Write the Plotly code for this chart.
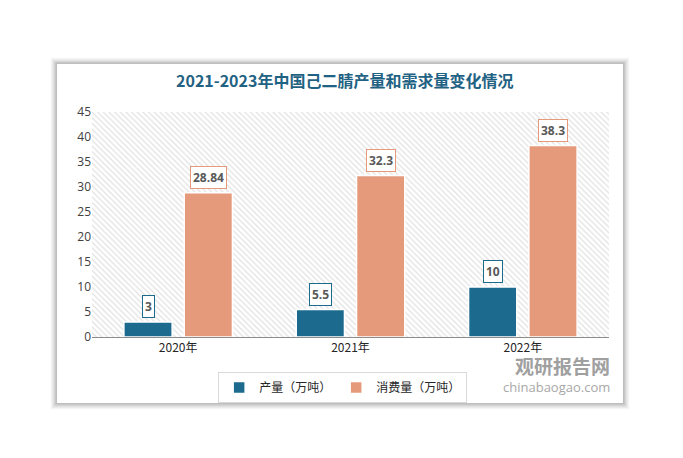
import plotly.graph_objects as go

categories = ["2020年", "2021年", "2022年"]
production = [3, 5.5, 10]
consumption = [28.84, 32.3, 38.3]
production_labels = ["3", "5.5", "10"]
consumption_labels = ["28.84", "32.3", "38.3"]
series_names = ["产量（万吨）", "消费量（万吨）"]
title_text = "2021-2023年中国己二腈产量和需求量变化情况"

BLUE = "#1c6b8e"
ORANGE = "#e59b7b"

fig = go.Figure()

# hatched plot background (decoration) on base axes
fig.add_trace(go.Scatter(
    x=[0, 1, 1, 0, 0], y=[0, 0, 1, 1, 0], mode="lines", fill="toself",
    line=dict(width=0), fillcolor="white",
    fillpattern=dict(shape="\\", fgcolor="#c4c4c4", bgcolor="white", size=4, solidity=0.3),
    hoverinfo="skip", showlegend=False, xaxis="x", yaxis="y"))

fig.add_trace(go.Bar(
    x=categories, y=production, name=series_names[0],
    marker=dict(color=BLUE, line=dict(color="white", width=1.5)),
    xaxis="x2", yaxis="y2"))
fig.add_trace(go.Bar(
    x=categories, y=consumption, name=series_names[1],
    marker=dict(color=ORANGE, line=dict(color="white", width=1.5)),
    xaxis="x2", yaxis="y2"))

annotations = []
for cat, v, lab in zip(categories, production, production_labels):
    annotations.append(dict(x=cat, y=v, xref="x2", yref="y2", text="<b>" + lab + "</b>",
                            showarrow=False, xshift=-30, yshift=4, yanchor="bottom",
                            bgcolor="white", bordercolor=BLUE, borderwidth=1, borderpad=2,
                            font=dict(size=12, color="#595959", family="Open Sans")))
for cat, v, lab in zip(categories, consumption, consumption_labels):
    annotations.append(dict(x=cat, y=v, xref="x2", yref="y2", text="<b>" + lab + "</b>",
                            showarrow=False, xshift=30, yshift=4, yanchor="bottom",
                            bgcolor="white", bordercolor=ORANGE, borderwidth=1, borderpad=2,
                            font=dict(size=12, color="#595959", family="Open Sans")))

# title
annotations.append(dict(x=0.489, y=1.142, xref="paper", yref="paper", text="<b>" + title_text + "</b>",
                        showarrow=False, xanchor="center", yanchor="middle",
                        font=dict(size=16, color="#1f6283", family="Noto Sans CJK SC")))
# watermark
annotations.append(dict(x=1.006, y=-0.125, xref="paper", yref="paper", text="<b>观研报告网</b>",
                        showarrow=False, xanchor="right", yanchor="middle",
                        font=dict(size=19, color="#a0a0a0", family="Noto Sans CJK SC")))
annotations.append(dict(x=1.006, y=-0.222, xref="paper", yref="paper", text="chinabaogao.com",
                        showarrow=False, xanchor="right", yanchor="middle",
                        font=dict(size=13, color="#a8a8a8", family="Open Sans")))

# card with soft shadow
x0, x1, y0, y1 = -0.0677, 1.027, -0.293, 1.213
shapes = []
for i, op in enumerate([0.04, 0.06, 0.08, 0.10]):
    d = (4 - i) * 1.6
    shapes.append(dict(type="rect", xref="paper", yref="paper",
                       x0=x0 - d / 517, x1=x1 + d / 517, y0=y0 - d / 225, y1=y1 + d / 225,
                       line=dict(width=0), fillcolor="rgba(0,0,0,%.2f)" % op, layer="below"))
shapes.append(dict(type="rect", xref="paper", yref="paper", x0=x0, x1=x1, y0=y0, y1=y1,
                   line=dict(width=0), fillcolor="white", layer="below"))

fig.update_layout(
    width=675, height=450,
    margin=dict(l=84, r=74, t=104, b=121),
    paper_bgcolor="white", plot_bgcolor="rgba(0,0,0,0)",
    barmode="group", bargap=0.30, bargroupgap=0.2,
    font=dict(family="Noto Sans CJK SC", color="#404040", size=12),
    xaxis=dict(range=[0, 1], visible=False, fixedrange=True),
    yaxis=dict(range=[0, 1], visible=False, fixedrange=True),
    xaxis2=dict(overlaying="x", anchor="y2", type="category", showline=True,
                linecolor="#8c8c8c", linewidth=1, ticks="", showgrid=False,
                tickfont=dict(size=12, color="#262626", family="Noto Sans CJK SC")),
    yaxis2=dict(overlaying="y", anchor="x2", side="left", range=[0, 45], dtick=5,
                showgrid=False, zeroline=False, showline=False, ticks="",
                tickfont=dict(size=12, color="#404040", family="Open Sans")),
    legend=dict(orientation="h", x=0.244, y=-0.156, xanchor="left", yanchor="top",
                bordercolor="#d9d9d9", borderwidth=1, bgcolor="white",
                font=dict(size=12, color="#262626", family="Noto Sans CJK SC"),
                itemwidth=30, tracegroupgap=0),
    annotations=annotations, shapes=shapes,
)

fig.write_html("out.html")
